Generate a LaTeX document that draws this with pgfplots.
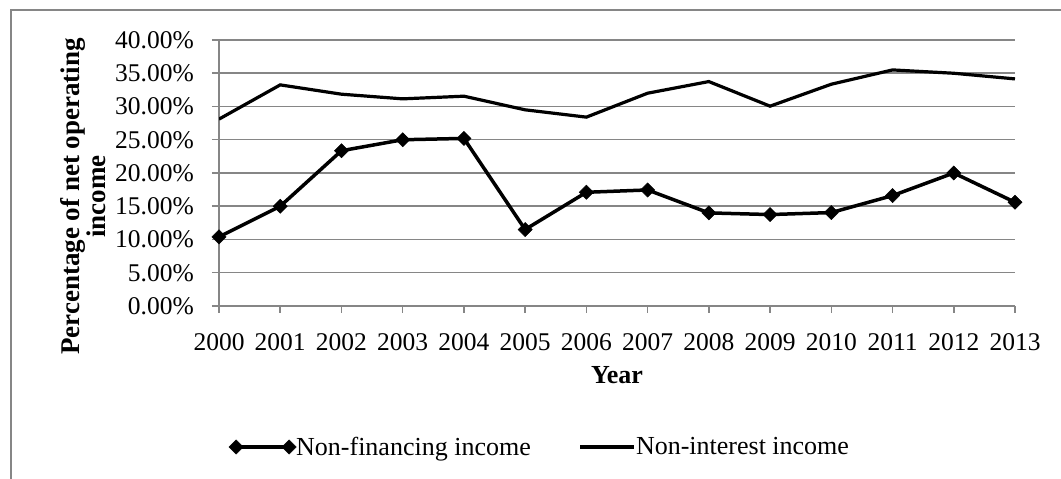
\documentclass[border=0pt]{standalone}
\usepackage{fontspec}
\setmainfont{Liberation Serif}
\usepackage{pgfplots}
\pgfplotsset{compat=1.18}
\definecolor{gridgray}{RGB}{134,134,134}
\pgfplotsset{
  legdiam/.style={legend image code/.code={\draw[##1] plot coordinates {(0pt,0pt) (53pt,0pt)};}},
  legline/.style={legend image code/.code={\draw[##1] (0pt,0pt) -- (54pt,0pt);}},
}
\begin{document}
\begin{tikzpicture}[x=1pt,y=1pt]
\useasboundingbox (0,0) rectangle (1061,479);
\draw[gridgray, line width=2pt] (11,-20) -- (11,468.5) -- (1090,468.5);
\begin{axis}[
  at={(219pt,173pt)}, anchor=south west,
  scale only axis, width=796pt, height=266pt,
  xmin=0, xmax=13, ymin=0, ymax=40,
  xtick={0,1,2,3,4,5,6,7,8,9,10,11,12,13},
  xticklabels={2000,2001,2002,2003,2004,2005,2006,2007,2008,2009,2010,2011,2012,2013},
  ytick={0,5,10,15,20,25,30,35,40},
  yticklabels={0.00\%,5.00\%,10.00\%,15.00\%,20.00\%,25.00\%,30.00\%,35.00\%,40.00\%},
  axis x line*=bottom, axis y line*=left,
  x axis line style={-, gridgray, line width=1.5pt},
  y axis line style={-, gridgray, line width=1.5pt},
  tick align=outside, major tick length=7pt,
  tick style={gridgray, line width=1.5pt},
  ymajorgrids, grid style={gridgray, line width=1.5pt},
  ticklabel style={font=\fontsize{25.5}{30}\selectfont},
  yticklabel style={inner sep=0pt, anchor=east, xshift=-18pt},
  xticklabel style={inner sep=0pt, anchor=north, yshift=-20pt},
  ylabel={Percentage of net operating\\income},
  ylabel style={font=\fontsize{27}{24}\bfseries\selectfont, align=center, at={(axis description cs:-0.171,0.412)}, anchor=center},
  xlabel={Year},
  xlabel style={font=\fontsize{26}{30}\bfseries\selectfont, at={(axis description cs:0.5,-0.26)}, anchor=center},
  legend columns=2,
  legend style={draw=none, fill=none, inner sep=0pt, outer sep=0pt,
    at={(axis description cs:0.0126,-0.53)}, anchor=west,
    font=\fontsize{26}{30}\selectfont,
    nodes={inner sep=0pt},
    /tikz/every even column/.append style={column sep=48pt}},
]
\addplot[black, line width=3.5pt, mark=square*, mark size=5pt,
  mark options={rotate=45, solid, line width=0.5pt}, legdiam]
  coordinates {(0,10.4) (1,15.0) (2,23.35) (3,25.0) (4,25.2) (5,11.5) (6,17.1) (7,17.45) (8,14.0) (9,13.75) (10,14.05) (11,16.6) (12,20.0) (13,15.6)};
\addlegendentry{Non-financing income}
\addplot[black, line width=3.2pt, no markers, legline]
  coordinates {(0,28.1) (1,33.25) (2,31.85) (3,31.15) (4,31.55) (5,29.5) (6,28.4) (7,32.0) (8,33.75) (9,30.05) (10,33.35) (11,35.5) (12,35.0) (13,34.15)};
\addlegendentry{Non-interest income}
\end{axis}
\end{tikzpicture}
\end{document}
